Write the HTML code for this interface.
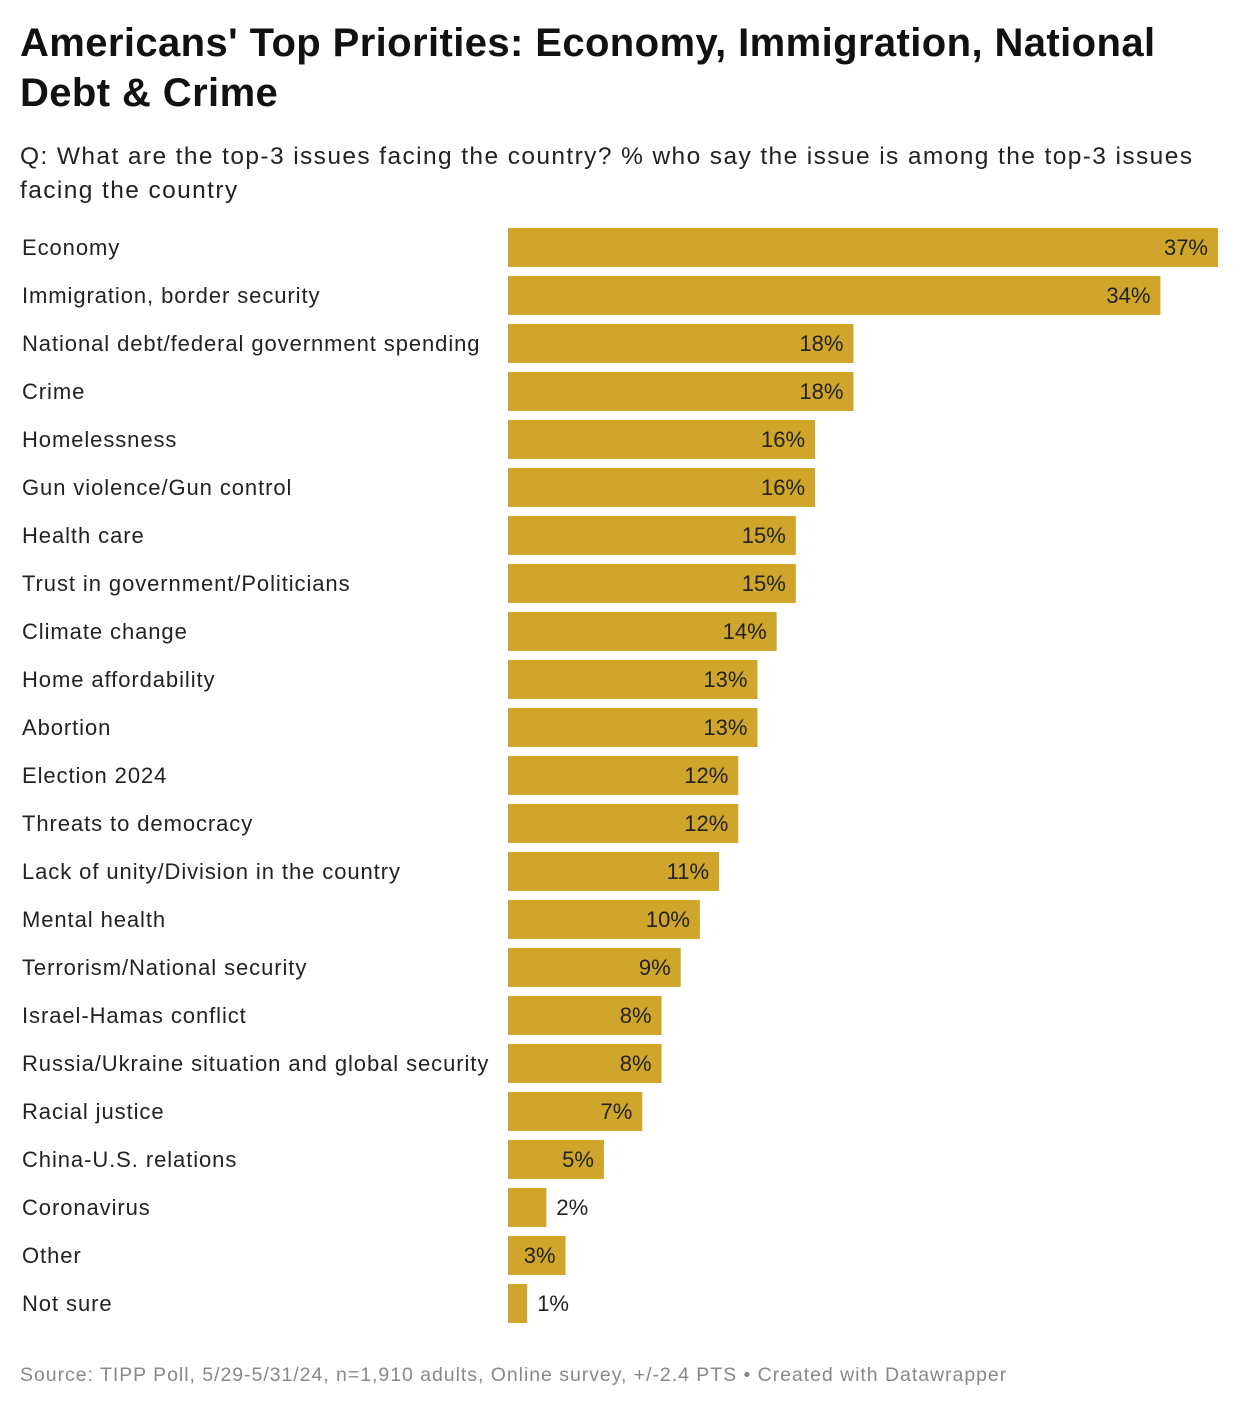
<!DOCTYPE html>
<html><head><meta charset="utf-8"><style>
body{margin:0;background:#fff;width:1240px;height:1410px;overflow:hidden;font-family:"Liberation Sans",sans-serif;color:#222}
h1{position:absolute;left:20px;top:18px;margin:0;font-size:40px;line-height:50px;font-weight:bold;width:1220px;letter-spacing:0.4px;color:#111;white-space:nowrap}
.sub{position:absolute;left:20px;top:140px;font-size:24.5px;line-height:34px;width:1215px;letter-spacing:1.4px;color:#222;white-space:nowrap}
.src{position:absolute;left:20px;top:1364px;font-size:19.5px;letter-spacing:0.96px;color:#888;white-space:nowrap}
</style></head><body>
<h1>Americans' Top Priorities: Economy, Immigration, National<br>Debt &amp; Crime</h1>
<div class="sub">Q: What are the top-3 issues facing the country? % who say the issue is among the top-3 issues<br>facing the country</div>
<svg id="chart" width="1240" height="1410" style="position:absolute;left:0;top:0"></svg>
<div class="src">Source: TIPP Poll, 5/29-5/31/24, n=1,910 adults, Online survey, +/-2.4 PTS • Created with Datawrapper</div>
<script>
const categories=["Economy","Immigration, border security","National debt/federal government spending","Crime","Homelessness","Gun violence/Gun control","Health care","Trust in government/Politicians","Climate change","Home affordability","Abortion","Election 2024","Threats to democracy","Lack of unity/Division in the country","Mental health","Terrorism/National security","Israel-Hamas conflict","Russia/Ukraine situation and global security","Racial justice","China-U.S. relations","Coronavirus","Other","Not sure"];
const values=[37,34,18,18,16,16,15,15,14,13,13,12,12,11,10,9,8,8,7,5,2,3,1];
const NS="http://www.w3.org/2000/svg";
const svg=document.getElementById('chart');
const x0=508,pxPer=710/37,y0=228,pitch=48,bh=39;
const xs=v=>v*pxPer, ys=i=>y0+i*pitch;
categories.forEach((c,i)=>{
  const v=values[i],y=ys(i),w=xs(v);
  const t=document.createElementNS(NS,'text');
  
  
  t.setAttribute('x',22);t.setAttribute('y',y+bh/2+7.5);
  t.setAttribute('font-size','22');t.setAttribute('letter-spacing','0.92');t.setAttribute('fill','#222');
  t.textContent=c;svg.appendChild(t);
  const r=document.createElementNS(NS,'rect');
  
  
  r.setAttribute('x',x0);r.setAttribute('y',y);r.setAttribute('width',w);r.setAttribute('height',bh);
  r.setAttribute('fill','#cfa52c');svg.appendChild(r);
  const l=document.createElementNS(NS,'text');
  
  
  const inside=w>50;
  l.setAttribute('x',inside?x0+w-10:x0+w+10);
  l.setAttribute('text-anchor',inside?'end':'start');
  l.setAttribute('y',y+bh/2+7.5);l.setAttribute('font-size','22');l.setAttribute('fill','#222');
  l.textContent=v+'%';svg.appendChild(l);
});
</script>
</body></html>
